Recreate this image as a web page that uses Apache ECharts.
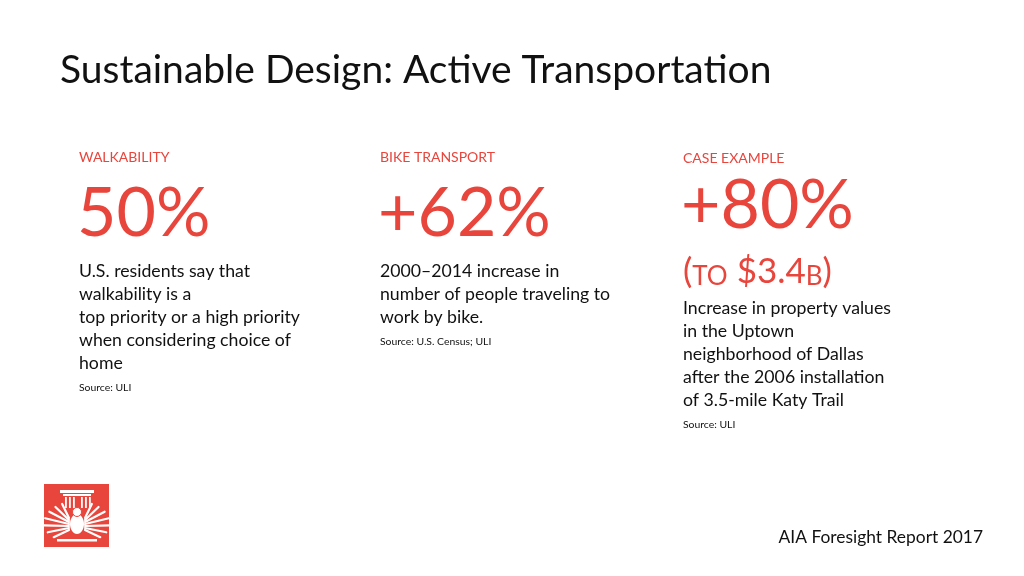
<!DOCTYPE html>
<html><head><meta charset="utf-8">
<script src="https://cdn.jsdelivr.net/npm/echarts@6/dist/echarts.min.js"></script>
<style>html,body{margin:0;padding:0;background:#fff}#c{width:1024px;height:576px}</style>
</head><body><div id="c"></div>
<script>
const titleText = 'Sustainable Design: Active Transportation';
const categories = ['WALKABILITY', 'BIKE TRANSPORT', 'CASE EXAMPLE'];
const values = ['50%', '+62%', '+80%'];
const subValue = ['', '', '(TO $3.4B)'];
const descriptions = [
  ['U.S. residents say that', 'walkability is a', 'top priority or a high priority', 'when considering choice of', 'home'],
  ['2000\u20132014 increase in', 'number of people traveling to', 'work by bike.'],
  ['Increase in property values', 'in the Uptown', 'neighborhood of Dallas', 'after the 2006 installation', 'of 3.5-mile Katy Trail']
];
const sources = ['Source: ULI', 'Source: U.S. Census; ULI', 'Source: ULI'];
const footer = 'AIA Foresight Report 2017';

const RED = '#E8453C';
const FONT = 'Lato';
const colX = [79, 380, 683];
const headerY = [157, 157, 158];
const valueY = [214, 214, 206];
const descTop = [271, 271, 308];
const lineH = 23;

const chart = echarts.init(document.getElementById('c'), null, {renderer: 'canvas'});
const g = [];
g.push({type: 'text', left: 60, top: 51, style: {text: titleText, font: '39px ' + FONT, fill: '#111'}});
categories.forEach((c, i) => {
  const x = colX[i];
  g.push({type: 'text', x: x, y: headerY[i], style: {text: c, font: '14px ' + FONT, fill: RED, verticalAlign: 'middle'}});
  g.push({type: 'text', x: x - 2, y: valueY[i], style: {text: values[i], font: '68px ' + FONT, fill: RED, verticalAlign: 'middle'}});
  if (subValue[i]) {
    g.push({type: 'text', x: x, y: 272, style: {
      text: '{b|(}{s|TO}{b| $3.4}{s|B}{b|)}',
      verticalAlign: 'middle',
      rich: {
        b: {fontSize: 35, fontFamily: FONT, fill: RED, color: RED},
        s: {fontSize: 26, fontFamily: FONT, fill: RED, color: RED, verticalAlign: 'bottom'}
      }
    }});
  }
  descriptions[i].forEach((line, j) => {
    g.push({type: 'text', x: x, y: descTop[i] + j * lineH, style: {text: line, font: '17.7px ' + FONT, fill: '#111', verticalAlign: 'middle'}});
  });
  g.push({type: 'text', x: x, y: descTop[i] + descriptions[i].length * lineH + 2, style: {text: sources[i], font: '10.4px ' + FONT, fill: '#111', verticalAlign: 'middle'}});
});
g.push({type: 'text', right: 41, top: 529, style: {text: footer, font: '17.4px ' + FONT, fill: '#111'}});

// logo
const logo = {type: 'group', x: 44, y: 484, children: [
  {type: 'rect', shape: {x: 0, y: 0, width: 65, height: 63}, style: {fill: RED}},
  {type: 'rect', shape: {x: 16, y: 6, width: 34, height: 3}, style: {fill: '#fff'}},
  {type: 'rect', shape: {x: 19, y: 10, width: 28, height: 2}, style: {fill: '#fff'}},
  {type: 'rect', shape: {x: 13, y: 55, width: 40, height: 2.5}, style: {fill: '#fff'}},
  {type: 'ellipse', shape: {cx: 33, cy: 40, rx: 7, ry: 10}, style: {fill: '#fff'}},
  {type: 'circle', shape: {cx: 33, cy: 28, r: 4.5}, style: {fill: '#fff', stroke: RED, lineWidth: 1}}
]};
[21, 25, 29, 37, 41, 45].forEach(fx => {
  logo.children.push({type: 'rect', shape: {x: fx, y: 13, width: 1.8, height: 11}, style: {fill: '#fff'}});
});
const feathers = [[70, 20], [52, 22], [35, 24], [18, 25], [2, 25], [-15, 22], [-32, 18]];
feathers.forEach((f, k) => {
  const r = f[0] * Math.PI / 180;
  [-1, 1].forEach(s => {
    const sx = 33 + s * 8, sy = 34 + k * 2;
    logo.children.push({type: 'line', shape: {x1: sx, y1: sy, x2: sx + s * f[1] * Math.cos(r), y2: sy - f[1] * Math.sin(r) * 0.75}, style: {stroke: '#fff', lineWidth: 2.2, lineCap: 'round'}});
  });
});
g.push(logo);

chart.setOption({animation: false, graphic: {elements: g}});
</script></body></html>
